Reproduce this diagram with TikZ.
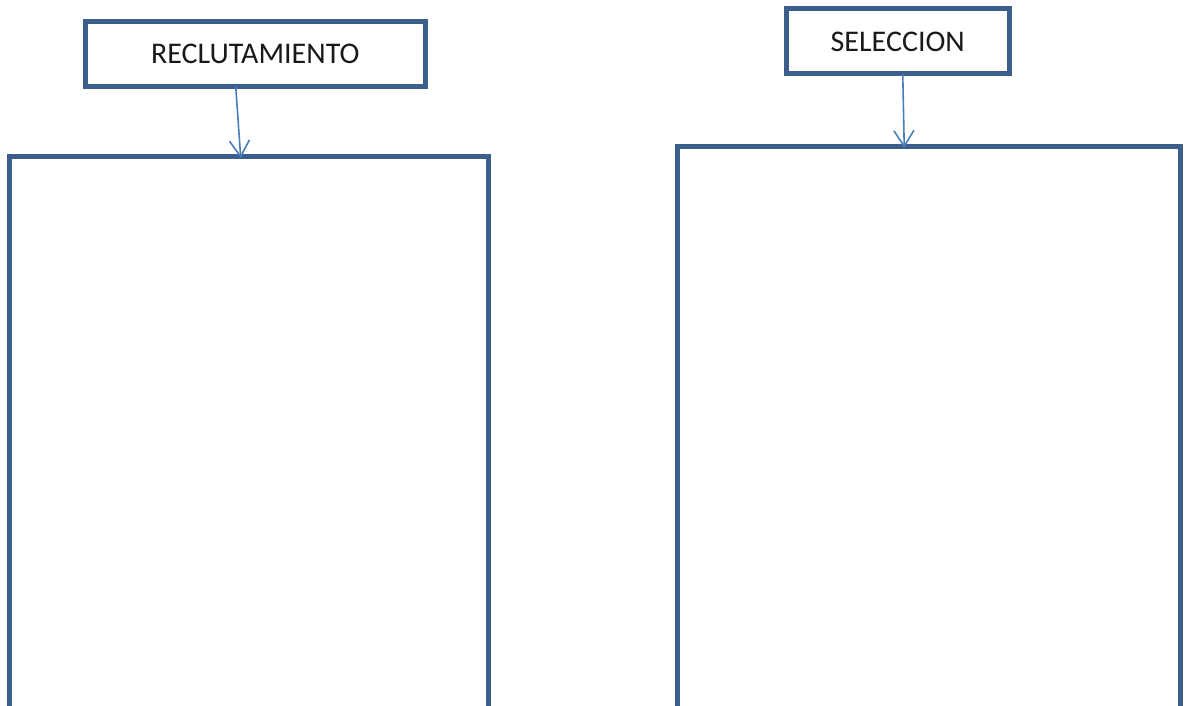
\documentclass[tikz,border=0pt]{standalone}
\usepackage{fontspec}
\setmainfont{Carlito}
\usetikzlibrary{arrows.meta}
\definecolor{boxcol}{RGB}{59,94,140}
\definecolor{arrcol}{RGB}{74,126,187}
\tikzset{
  labelbox/.style={draw=boxcol, line width=5pt, fill=white, inner sep=0pt, outer sep=0pt, anchor=north west,
    font=\fontsize{30}{36}\selectfont, text=black!90},
  bigbox/.style={draw=boxcol, line width=5pt, inner sep=0pt, outer sep=0pt, anchor=north west},
  arr/.style={draw=arrcol, line width=1.6pt, -{Straight Barb[length=16pt,width=20pt,line width=1.6pt]}}
}
\begin{document}
\begin{tikzpicture}[x=1pt,y=-1pt]
\useasboundingbox (0,0) rectangle (1188,706);
\clip (0,0) rectangle (1188,706);
\fill[white] (0,0) rectangle (1188,706);
\node[bigbox, minimum width=478.8pt, minimum height=600pt] (b1) at (9.7,156.5) {};
\node[bigbox, minimum width=502.5pt, minimum height=600pt] (b2) at (677.5,146.5) {};
\node[labelbox, minimum width=340.5pt, minimum height=64.5pt] (r) at (85,22) {RECLUTAMIENTO};
\node[labelbox, minimum width=223.5pt, minimum height=65pt] (s) at (786,9) {SELECCION};
\draw[arr] ([xshift=-19.5pt]r.south) -- ([xshift=-8.4pt,yshift=-1.5pt]b1.north);
\draw[arr] ([xshift=5pt]s.south) -- ([xshift=-24.5pt,yshift=-1.5pt]b2.north);
\end{tikzpicture}
\end{document}
